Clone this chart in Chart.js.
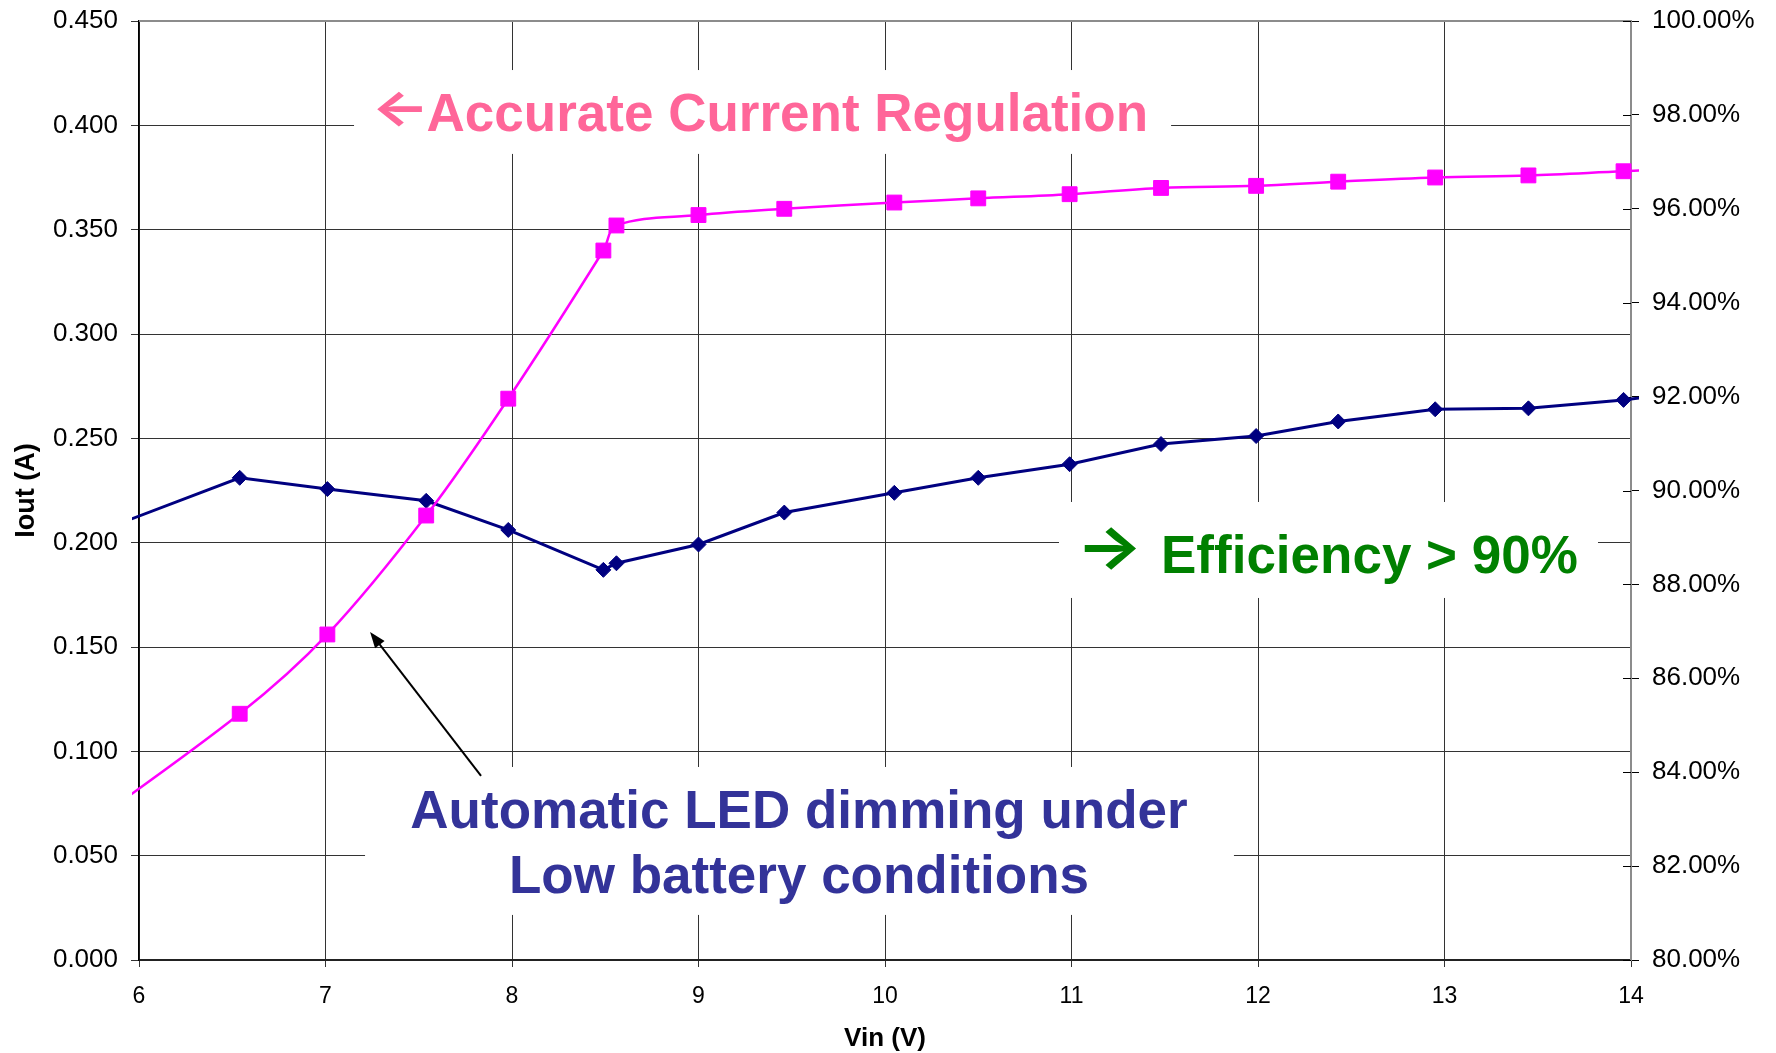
<!DOCTYPE html>
<html>
<head>
<meta charset="utf-8">
<script src="https://cdn.jsdelivr.net/npm/chart.js@4.4.1/dist/chart.umd.min.js"></script>
<style>
  html, body { margin: 0; padding: 0; background: #ffffff; }
  #wrap { width: 1776px; height: 1053px; position: relative; }
</style>
</head>
<body>
<div id="wrap"><canvas id="c"></canvas></div>
<script>
// ---------------- data ----------------
const vin        = [5.5, 6.54, 7.01, 7.54, 7.98, 8.49, 8.56, 9.00, 9.46, 10.05, 10.50, 10.99, 11.48, 11.99, 12.43, 12.95, 13.45, 13.96, 14.5];
const iout       = [0.050, 0.118, 0.156, 0.213, 0.269, 0.340, 0.352, 0.357, 0.360, 0.363, 0.365, 0.367, 0.370, 0.371, 0.373, 0.375, 0.376, 0.378, 0.380];
const efficiency = [88.7, 90.27, 90.03, 89.78, 89.16, 88.31, 88.45, 88.85, 89.53, 89.95, 90.27, 90.56, 90.99, 91.16, 91.47, 91.73, 91.75, 91.93, 92.2];

const xTickLabels     = ['6', '7', '8', '9', '10', '11', '12', '13', '14'];
const leftTickLabels  = ['0.000', '0.050', '0.100', '0.150', '0.200', '0.250', '0.300', '0.350', '0.400', '0.450'];
const rightTickLabels = ['80.00%', '82.00%', '84.00%', '86.00%', '88.00%', '90.00%', '92.00%', '94.00%', '96.00%', '98.00%', '100.00%'];

const xTitle = 'Vin (V)';
const yTitle = 'Iout (A)';

// ---------------- layout / style ----------------
const FONT = "'Liberation Sans', Arial, Helvetica, sans-serif";
const ARROW_FONT = "bold 53px Inter, 'DejaVu Sans', sans-serif";

// annotations in data coordinates (x: Vin, y: Iout axis)
const notes = [
  { arrow: '←', arrowBox: [7.276, 7.517, 0.4160, 0.3992], arrowColor: '#FF6699',
    lines: ['Accurate Current Regulation'], align: 'left', tx: 7.542, ys: [0.3973], color: '#FF6699',
    box: [7.153, 11.534, 0.4265, 0.3863] },
  { arrow: '→', arrowBox: [11.067, 11.351, 0.2075, 0.1869], arrowColor: '#008000',
    lines: ['Efficiency > 90%'], align: 'left', tx: 11.480, ys: [0.1855], color: '#008000',
    box: [10.933, 13.823, 0.2195, 0.1735] },
  { lines: ['Automatic LED dimming under', 'Low battery conditions'], align: 'center', tx: 9.539, ys: [0.0633, 0.0321], color: '#333399',
    box: [7.212, 11.871, 0.0925, 0.0216] }
];
const pointer = { from: [7.834, 0.0882], to: [7.239, 0.1572] };

function drawGlyphInBox(ctx, ch, font, x0, x1, yTop, yBottom, color) {
  ctx.save();
  ctx.font = font;
  ctx.textAlign = 'left';
  ctx.textBaseline = 'alphabetic';
  const m = ctx.measureText(ch);
  const gw = m.actualBoundingBoxLeft + m.actualBoundingBoxRight;
  const gh = m.actualBoundingBoxAscent + m.actualBoundingBoxDescent;
  ctx.translate(x0, yTop);
  ctx.scale((x1 - x0) / gw, (yBottom - yTop) / gh);
  ctx.fillStyle = color;
  ctx.fillText(ch, m.actualBoundingBoxLeft, m.actualBoundingBoxAscent);
  ctx.restore();
}

const annotPlugin = {
  id: 'annot',
  beforeDatasetsDraw(chart) {
    const { ctx, chartArea: a, scales: { x, y, y1 } } = chart;
    ctx.save();
    // white boxes behind the notes (they hide the grid lines)
    ctx.fillStyle = '#ffffff';
    notes.forEach(n => {
      const x0 = x.getPixelForValue(n.box[0]), x1 = x.getPixelForValue(n.box[1]);
      const y0 = y.getPixelForValue(n.box[2]), y1p = y.getPixelForValue(n.box[3]);
      ctx.fillRect(x0, y0, x1 - x0, y1p - y0);
    });
    // grey plot-area border (top, right)
    ctx.strokeStyle = '#8c8c8c';
    ctx.lineWidth = 2;
    ctx.beginPath();
    ctx.moveTo(a.left, a.top);
    ctx.lineTo(a.right, a.top);
    ctx.lineTo(a.right, a.bottom + 1);
    ctx.stroke();
    // inner half of the crossing ticks on the right axis
    ctx.strokeStyle = '#000000';
    ctx.lineWidth = 1;
    y1.ticks.forEach(t => {
      const py = Math.round(y1.getPixelForValue(t.value)) + 0.5;
      ctx.beginPath();
      ctx.moveTo(a.right - 8, py);
      ctx.lineTo(a.right, py);
      ctx.stroke();
    });
    ctx.restore();
  },
  afterDatasetsDraw(chart) {
    const { ctx, scales: { x, y } } = chart;
    ctx.save();
    ctx.textBaseline = 'alphabetic';
    notes.forEach(n => {
      ctx.font = 'bold 53px ' + FONT;
      ctx.textAlign = n.align;
      ctx.fillStyle = n.color;
      n.lines.forEach((t, i) => ctx.fillText(t, x.getPixelForValue(n.tx), y.getPixelForValue(n.ys[i])));
      if (n.arrow) {
        drawGlyphInBox(ctx, n.arrow, ARROW_FONT,
          x.getPixelForValue(n.arrowBox[0]), x.getPixelForValue(n.arrowBox[1]),
          y.getPixelForValue(n.arrowBox[2]), y.getPixelForValue(n.arrowBox[3]), n.arrowColor);
      }
    });
    // black pointer arrow
    const fx = x.getPixelForValue(pointer.from[0]), fy = y.getPixelForValue(pointer.from[1]);
    const tx = x.getPixelForValue(pointer.to[0]),   ty = y.getPixelForValue(pointer.to[1]);
    const ang = Math.atan2(ty - fy, tx - fx);
    const headLen = 16, headHalf = 6;
    ctx.strokeStyle = '#000000';
    ctx.fillStyle = '#000000';
    ctx.lineWidth = 2;
    ctx.beginPath();
    ctx.moveTo(fx, fy);
    ctx.lineTo(tx - Math.cos(ang) * headLen * 0.8, ty - Math.sin(ang) * headLen * 0.8);
    ctx.stroke();
    ctx.beginPath();
    ctx.moveTo(tx, ty);
    ctx.lineTo(tx - Math.cos(ang) * headLen - Math.sin(ang) * headHalf, ty - Math.sin(ang) * headLen + Math.cos(ang) * headHalf);
    ctx.lineTo(tx - Math.cos(ang) * headLen + Math.sin(ang) * headHalf, ty - Math.sin(ang) * headLen - Math.cos(ang) * headHalf);
    ctx.closePath();
    ctx.fill();
    ctx.restore();
  }
};

const lineClip = { left: 7, right: 8, top: 4, bottom: 4 };

function noPad(s) { s.paddingTop = 0; s.paddingBottom = 0; s.paddingLeft = 0; s.paddingRight = 0; }

new Chart(document.getElementById('c'), {
  type: 'line',
  data: {
    datasets: [
      {
        label: 'Iout',
        data: vin.map((v, i) => ({ x: v, y: iout[i] })),
        yAxisID: 'y',
        borderColor: '#FF00FF',
        backgroundColor: '#FF00FF',
        borderWidth: 2.5,
        tension: 0.35,
        capBezierPoints: false,
        pointStyle: 'rect',
        pointRadius: 10.5,
        pointBorderWidth: 1,
        pointBorderColor: '#FF00FF',
        pointBackgroundColor: '#FF00FF',
        clip: lineClip
      },
      {
        label: 'Efficiency',
        data: vin.map((v, i) => ({ x: v, y: efficiency[i] })),
        yAxisID: 'y1',
        borderColor: '#000080',
        backgroundColor: '#000080',
        borderWidth: 3,
        tension: 0,
        pointStyle: 'rectRot',
        pointRadius: 7.5,
        pointBorderWidth: 1,
        pointBorderColor: '#000080',
        pointBackgroundColor: '#000080',
        clip: lineClip
      }
    ]
  },
  options: {
    responsive: true,
    maintainAspectRatio: false,
    animation: false,
    devicePixelRatio: 1,
    layout: { padding: { top: 21, left: 0, right: 0, bottom: 0 } },
    plugins: { legend: { display: false }, tooltip: { enabled: false } },
    scales: {
      x: {
        type: 'linear', position: 'bottom', min: 6, max: 14,
        ticks: {
          stepSize: 1, autoSkip: false, maxRotation: 0, padding: 16, color: '#000000',
          font: { family: FONT, size: 23 },
          callback: (v, i) => xTickLabels[i]
        },
        grid: { color: '#333333', lineWidth: 1, tickLength: 7, drawTicks: true },
        border: { color: '#222222', width: 2 },
        title: { display: true, text: xTitle, color: '#000000', font: { family: FONT, size: 26, weight: 'bold', lineHeight: 1.1 }, padding: { top: 0, bottom: 0 } },
        afterFit(s) { s.height = 93; noPad(s); }
      },
      y: {
        type: 'linear', position: 'left', min: 0, max: 0.45,
        ticks: {
          stepSize: 0.05, padding: 13, color: '#000000',
          font: { family: FONT, size: 26 },
          callback: (v, i) => leftTickLabels[i]
        },
        grid: { color: '#333333', lineWidth: 1, tickLength: 8, drawTicks: true },
        border: { color: '#000000', width: 1.5 },
        title: { display: true, text: yTitle, color: '#000000', font: { family: FONT, size: 27, weight: 'bold' }, padding: { top: 10, bottom: 0 } },
        afterFit(s) { s.width = 139; noPad(s); }
      },
      y1: {
        type: 'linear', position: 'right', min: 80, max: 100,
        ticks: {
          stepSize: 2, padding: 13, color: '#000000',
          font: { family: FONT, size: 26 },
          callback: (v, i) => rightTickLabels[i]
        },
        grid: { drawOnChartArea: false, color: '#000000', lineWidth: 1, tickLength: 8, drawTicks: true },
        border: { display: false },
        afterFit(s) { s.width = 145; noPad(s); }
      }
    }
  },
  plugins: [annotPlugin]
});
</script>
</body>
</html>
